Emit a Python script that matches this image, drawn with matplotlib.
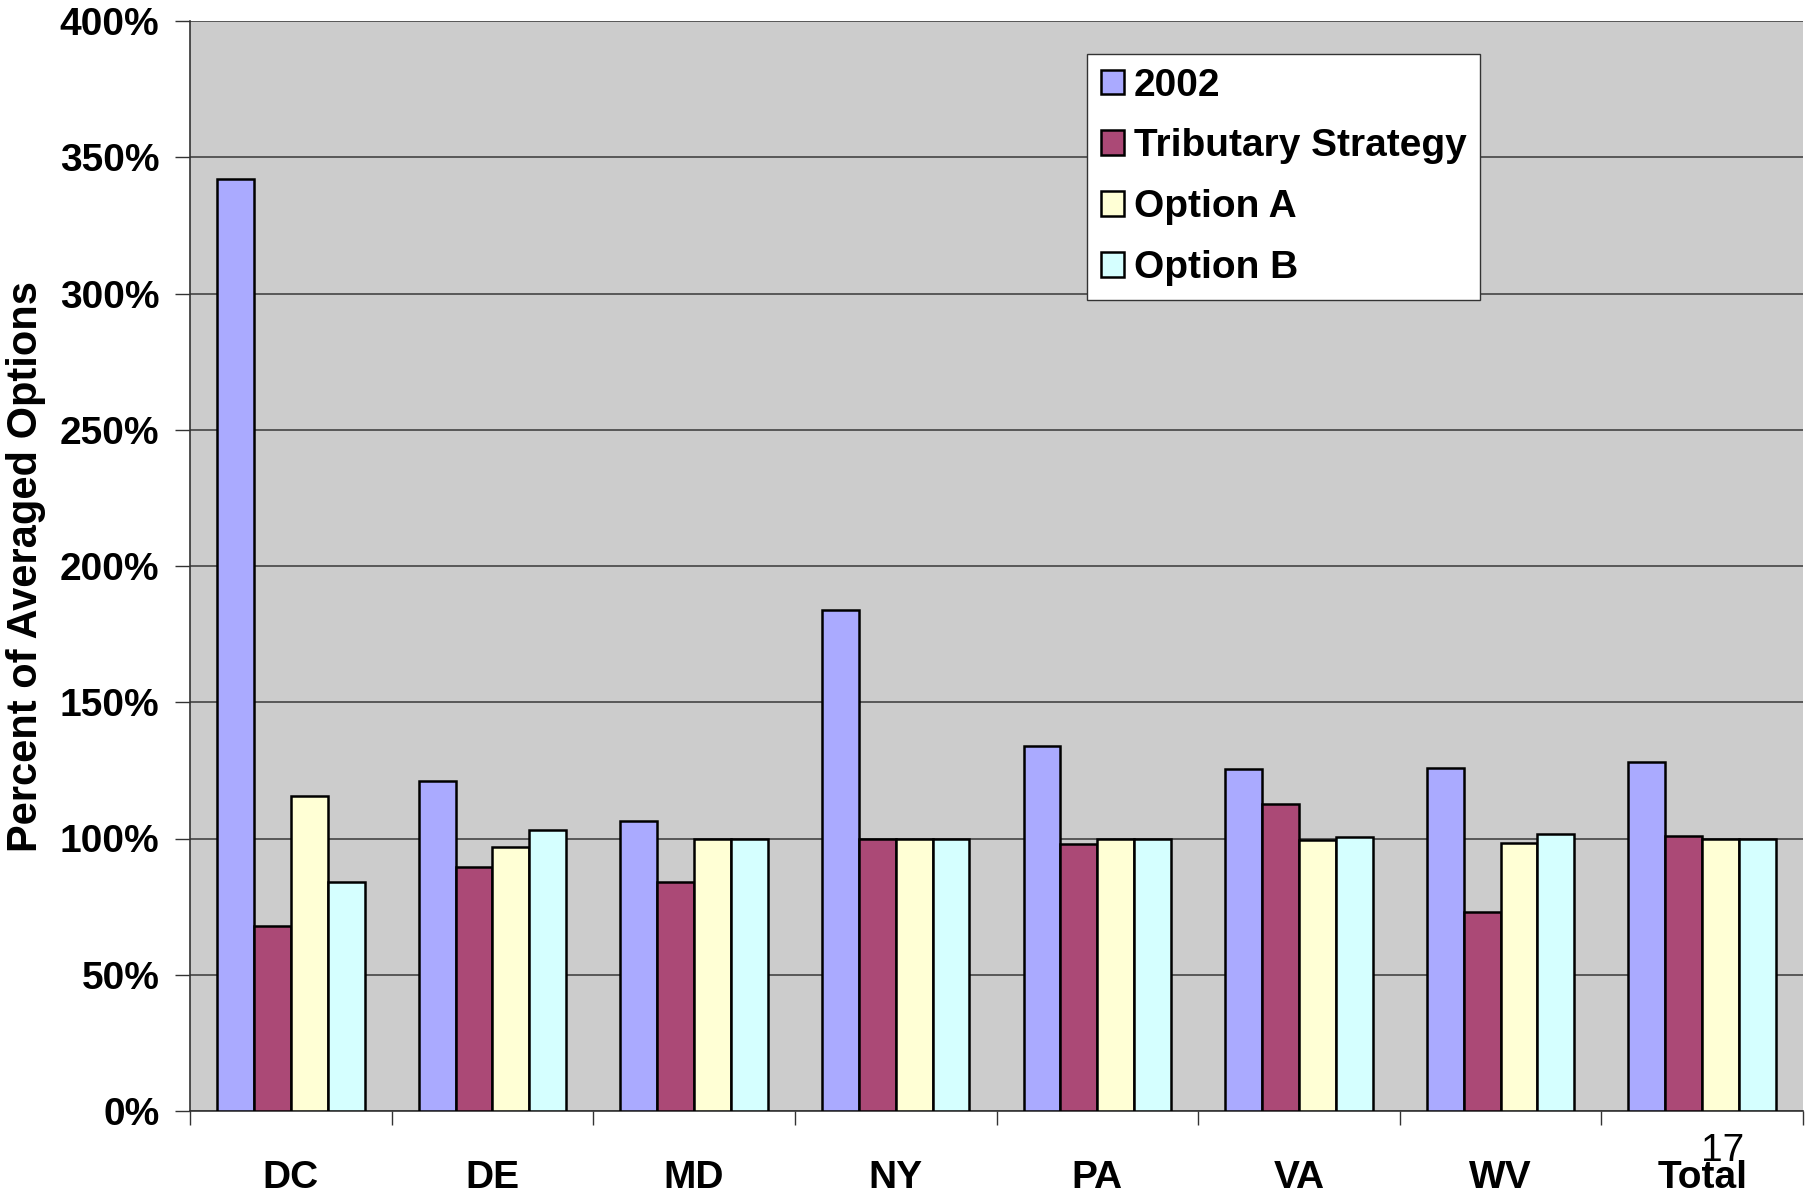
import matplotlib
matplotlib.use("Agg")
import matplotlib.pyplot as plt
import numpy as np
from matplotlib.ticker import FixedLocator, PercentFormatter

categories = ["DC", "DE", "MD", "NY", "PA", "VA", "WV", "Total"]
series_names = ["2002", "Tributary Strategy", "Option A", "Option B"]
v2002 = [342, 121, 106.5, 184, 134, 125.5, 126, 128]
vtrib = [68, 89.5, 84, 99.7, 98, 112.8, 73, 101]
vopta = [115.7, 96.7, 99.7, 99.8, 100, 99.4, 98.2, 99.7]
voptb = [84, 103, 100, 100, 100, 100.4, 101.5, 100]
yticks = [0, 50, 100, 150, 200, 250, 300, 350, 400]
colors = ["#AAAAFF", "#AB4976", "#FFFFD5", "#D5FFFF"]

plt.rcParams['font.family'] = ['Liberation Sans', 'DejaVu Sans']

fig = plt.figure(figsize=(18.05, 11.96), dpi=100)
ax = fig.add_axes([190/1805, 1 - 1111/1196, 1613/1805, (1111-21)/1196])
ax.set_facecolor("#CCCCCC")

x = np.arange(len(categories))
bw = 0.183
allv = [v2002, vtrib, vopta, voptb]
for i, (vals, name, c) in enumerate(zip(allv, series_names, colors)):
    ax.bar(x + (i - 1.5) * bw, vals, width=bw, color=c, edgecolor="black",
           linewidth=1.8, label=name, zorder=3)

ax.set_xlim(-0.5, len(categories) - 0.5)
ax.set_ylim(0, 400)
ax.set_yticks(yticks)
ax.yaxis.set_major_formatter(PercentFormatter(decimals=0))
ax.grid(axis="y", color="#444444", linewidth=1.2, zorder=0)

ax.xaxis.set_major_locator(FixedLocator(np.arange(-0.5, len(categories), 1)))
ax.xaxis.set_minor_locator(FixedLocator(x))
ax.set_xticklabels([], minor=False)
ax.set_xticklabels(categories, minor=True, fontsize=28, fontweight="bold")
ax.tick_params(axis="x", which="major", length=10, width=1, color="#333333")
ax.tick_params(axis="x", which="minor", length=0, pad=35)
ax.tick_params(axis="y", length=11, width=1, pad=11, labelsize=28, color="#333333")
for lab in ax.get_yticklabels():
    lab.set_fontweight("bold")

for s in ["top", "right"]:
    ax.spines[s].set_visible(False)
ax.spines["left"].set_color("#333333")
ax.spines["bottom"].set_color("#333333")
ax.spines["left"].set_linewidth(1.2)
ax.spines["bottom"].set_linewidth(1.2)

ax.set_ylabel("Percent of Averaged Options", fontsize=30, fontweight="bold", labelpad=10)

leg = ax.legend(loc="upper left", bbox_to_anchor=((1087-190)/1613, 1 - (54-21)/1090),
                prop={"weight": "bold", "size": 28}, frameon=True, fancybox=False,
                edgecolor="#333333", framealpha=1, handlelength=0.6, handleheight=0.6,
                handletextpad=0.25, labelspacing=0.64, borderpad=0.35, borderaxespad=0)
leg.get_frame().set_linewidth(1.0)

fig.text(1723/1805, 1 - 1151/1196, "17", fontsize=28, ha="center", va="center")

fig.savefig("out.png", dpi=100)
